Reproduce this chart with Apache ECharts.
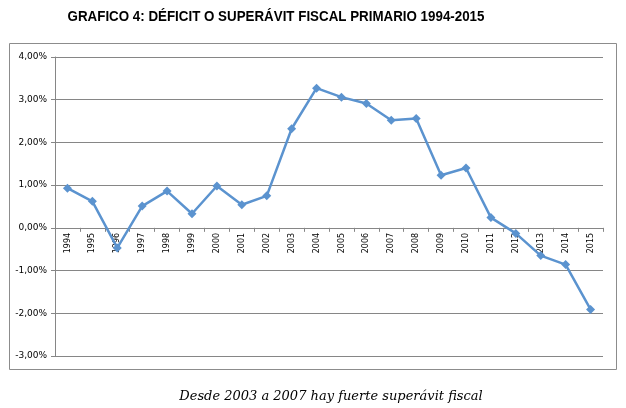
<!DOCTYPE html>
<html><head><meta charset="utf-8">
<script src="https://cdn.jsdelivr.net/npm/echarts@6/dist/echarts.min.js"></script>
<style>html,body{margin:0;padding:0;background:#fff}#c{width:626px;height:408px}</style>
</head><body><div id="c"></div>
<script>
const years = ['1994','1995','1996','1997','1998','1999','2000','2001','2002','2003','2004','2005','2006','2007','2008','2009','2010','2011','2012','2013','2014','2015'];
const balance = [0.93,0.62,-0.47,0.51,0.86,0.33,0.98,0.54,0.75,2.32,3.27,3.06,2.91,2.52,2.56,1.23,1.40,0.24,-0.13,-0.65,-0.86,-1.91];
const titleText = 'GRAFICO 4: DÉFICIT O SUPERÁVIT FISCAL PRIMARIO 1994-2015';
const captionText = 'Desde 2003 a 2007 hay fuerte superávit fiscal';
const yMin = -3, yMax = 4;

const gridTop = 57, gridBottom = 52, H = 408;
const plotH = H - gridTop - gridBottom;
const zeroOffset = -plotH * (0 - yMin) / (yMax - yMin);

const chart = echarts.init(document.getElementById('c'), null, {renderer:'canvas'});
chart.setOption({
  animation:false,
  backgroundColor:'#fff',
  graphic:[
    {type:'rect',shape:{x:9.5,y:43.5,width:607,height:326},style:{fill:'none',stroke:'#8c8c8c',lineWidth:1},z:-1},
    {type:'text',x:276,y:9,scaleX:0.89,originX:0,originY:0,
      style:{text:titleText,fontWeight:'bold',fontSize:15,fontFamily:'"Liberation Sans", Arial',fill:'#000',textAlign:'center',textVerticalAlign:'top'}},
    {type:'text',x:331,y:390,
      style:{text:captionText,fontStyle:'italic',fontSize:13,fontFamily:'"DejaVu Serif"',fill:'#000',textAlign:'center',textVerticalAlign:'top'}}
  ],
  grid:{left:55,right:23,top:gridTop,bottom:gridBottom,containLabel:false},
  xAxis:{type:'category',data:years,boundaryGap:true,position:'bottom',offset:zeroOffset,
    axisLine:{onZero:false,lineStyle:{color:'#868686',width:1}},
    axisTick:{show:true,interval:0,length:4,lineStyle:{color:'#868686'}},
    axisLabel:{interval:0,rotate:90,fontSize:8,margin:5,color:'#000',fontFamily:'DejaVu Sans, Tahoma'}},
  yAxis:{type:'value',min:yMin,max:yMax,interval:1,
    axisLine:{show:true,lineStyle:{color:'#868686'}},
    axisTick:{show:true,length:4,lineStyle:{color:'#868686'}},
    splitLine:{lineStyle:{color:'#868686',width:1}},
    axisLabel:{fontSize:9,margin:8,color:'#000',fontFamily:'DejaVu Sans, Tahoma',
      formatter:v=>v.toFixed(2).replace('.',',')+'%'}},
  series:[{type:'line',data:balance,symbol:'diamond',symbolSize:9,
    lineStyle:{color:'#5b93cf',width:2.5},itemStyle:{color:'#5b93cf'}}]
});
</script></body></html>
